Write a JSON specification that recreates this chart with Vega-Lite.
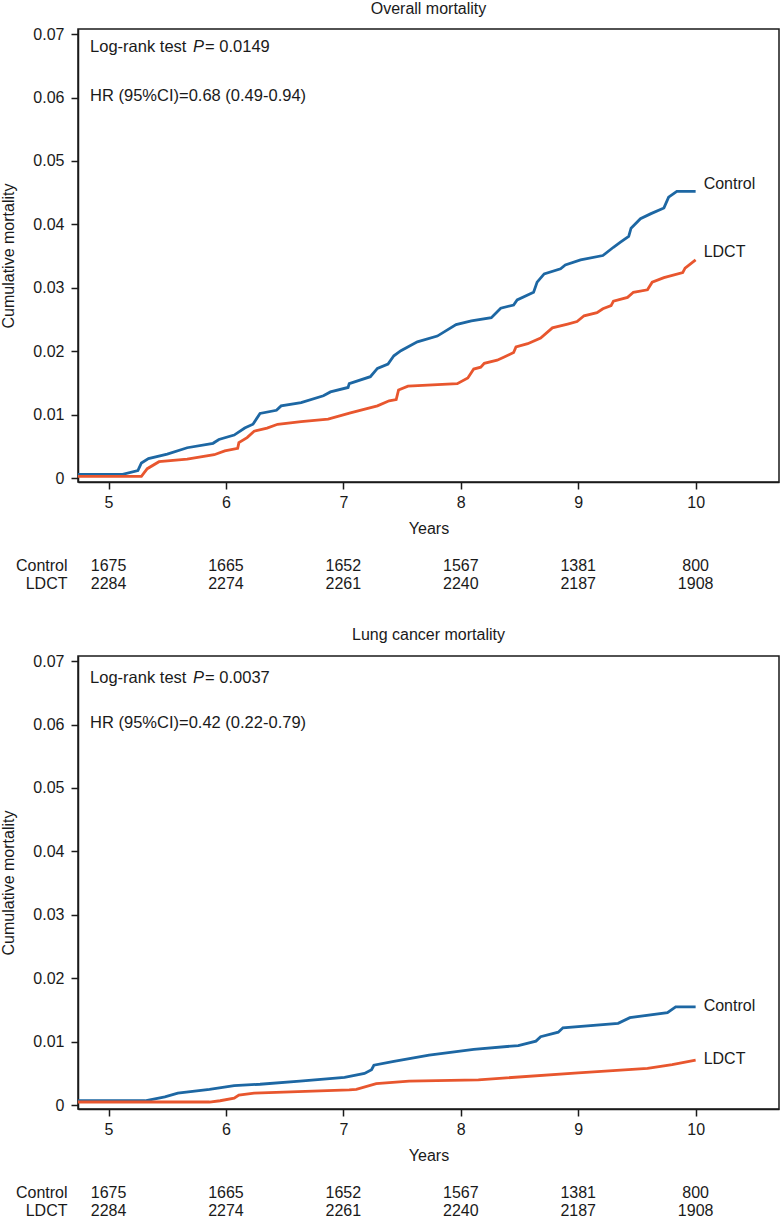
{
  "$schema": "https://vega.github.io/schema/vega-lite/v6.json",
  "padding": {"left": 0, "top": 0, "right": 0, "bottom": 0},
  "background": "white",
  "config": {
    "font": "Liberation Sans",
    "view": {"stroke": "#1a1a1a", "strokeWidth": 1.5},
    "axis": {"labelFont": "Liberation Sans", "labelFontSize": 16, "labelColor": "#1a1a1a", "titleFont": "Liberation Sans", "titleFontSize": 16, "titleFontWeight": "normal", "titleColor": "#1a1a1a", "domainColor": "#1a1a1a", "tickColor": "#1a1a1a", "grid": false, "tickSize": 7, "domainWidth": 1.5, "tickWidth": 1.5},
    "title": {"font": "Liberation Sans", "fontSize": 16, "fontWeight": "normal", "color": "#1a1a1a", "frame": "group", "anchor": "middle", "offset": 9},
    "concat": {"spacing": 20}
  },
  "resolve": {"scale": {"x": "independent", "y": "independent"}},
  "datasets": {
    "overall": [
      {"group": "Control", "t": 4.74, "m": 0.0006}, {"group": "Control", "t": 5.12, "m": 0.0006}, {"group": "Control", "t": 5.25, "m": 0.0012}, {"group": "Control", "t": 5.28, "m": 0.0024}, {"group": "Control", "t": 5.34, "m": 0.0031}, {"group": "Control", "t": 5.50, "m": 0.0038}, {"group": "Control", "t": 5.67, "m": 0.0048}, {"group": "Control", "t": 5.89, "m": 0.0055}, {"group": "Control", "t": 5.94, "m": 0.0061}, {"group": "Control", "t": 6.07, "m": 0.0068}, {"group": "Control", "t": 6.16, "m": 0.0079}, {"group": "Control", "t": 6.23, "m": 0.0085}, {"group": "Control", "t": 6.29, "m": 0.0102}, {"group": "Control", "t": 6.43, "m": 0.0107}, {"group": "Control", "t": 6.47, "m": 0.0114}, {"group": "Control", "t": 6.64, "m": 0.0119}, {"group": "Control", "t": 6.83, "m": 0.0130}, {"group": "Control", "t": 6.89, "m": 0.0136}, {"group": "Control", "t": 7.04, "m": 0.0143}, {"group": "Control", "t": 7.05, "m": 0.0149}, {"group": "Control", "t": 7.23, "m": 0.0160}, {"group": "Control", "t": 7.29, "m": 0.0173}, {"group": "Control", "t": 7.38, "m": 0.0180}, {"group": "Control", "t": 7.43, "m": 0.0193}, {"group": "Control", "t": 7.49, "m": 0.0201}, {"group": "Control", "t": 7.63, "m": 0.0215}, {"group": "Control", "t": 7.80, "m": 0.0224}, {"group": "Control", "t": 7.96, "m": 0.0242}, {"group": "Control", "t": 8.09, "m": 0.0248}, {"group": "Control", "t": 8.26, "m": 0.0253}, {"group": "Control", "t": 8.34, "m": 0.0268}, {"group": "Control", "t": 8.45, "m": 0.0273}, {"group": "Control", "t": 8.48, "m": 0.0281}, {"group": "Control", "t": 8.62, "m": 0.0293}, {"group": "Control", "t": 8.65, "m": 0.0309}, {"group": "Control", "t": 8.71, "m": 0.0322}, {"group": "Control", "t": 8.85, "m": 0.0330}, {"group": "Control", "t": 8.89, "m": 0.0336}, {"group": "Control", "t": 9.02, "m": 0.0344}, {"group": "Control", "t": 9.21, "m": 0.0351}, {"group": "Control", "t": 9.30, "m": 0.0364}, {"group": "Control", "t": 9.36, "m": 0.0372}, {"group": "Control", "t": 9.43, "m": 0.0381}, {"group": "Control", "t": 9.45, "m": 0.0394}, {"group": "Control", "t": 9.53, "m": 0.0409}, {"group": "Control", "t": 9.62, "m": 0.0417}, {"group": "Control", "t": 9.73, "m": 0.0426}, {"group": "Control", "t": 9.77, "m": 0.0443}, {"group": "Control", "t": 9.84, "m": 0.0452}, {"group": "Control", "t": 10.0, "m": 0.0452},
      {"group": "LDCT", "t": 4.74, "m": 0.0003}, {"group": "LDCT", "t": 5.28, "m": 0.0003}, {"group": "LDCT", "t": 5.33, "m": 0.0015}, {"group": "LDCT", "t": 5.43, "m": 0.0026}, {"group": "LDCT", "t": 5.67, "m": 0.0030}, {"group": "LDCT", "t": 5.90, "m": 0.0037}, {"group": "LDCT", "t": 5.99, "m": 0.0043}, {"group": "LDCT", "t": 6.10, "m": 0.0047}, {"group": "LDCT", "t": 6.11, "m": 0.0056}, {"group": "LDCT", "t": 6.18, "m": 0.0064}, {"group": "LDCT", "t": 6.24, "m": 0.0074}, {"group": "LDCT", "t": 6.35, "m": 0.0079}, {"group": "LDCT", "t": 6.44, "m": 0.0085}, {"group": "LDCT", "t": 6.64, "m": 0.0089}, {"group": "LDCT", "t": 6.87, "m": 0.0093}, {"group": "LDCT", "t": 7.06, "m": 0.0103}, {"group": "LDCT", "t": 7.29, "m": 0.0114}, {"group": "LDCT", "t": 7.39, "m": 0.0122}, {"group": "LDCT", "t": 7.45, "m": 0.0124}, {"group": "LDCT", "t": 7.47, "m": 0.0139}, {"group": "LDCT", "t": 7.55, "m": 0.0145}, {"group": "LDCT", "t": 7.97, "m": 0.0149}, {"group": "LDCT", "t": 8.06, "m": 0.0158}, {"group": "LDCT", "t": 8.11, "m": 0.0172}, {"group": "LDCT", "t": 8.17, "m": 0.0175}, {"group": "LDCT", "t": 8.20, "m": 0.0181}, {"group": "LDCT", "t": 8.31, "m": 0.0186}, {"group": "LDCT", "t": 8.37, "m": 0.0191}, {"group": "LDCT", "t": 8.45, "m": 0.0198}, {"group": "LDCT", "t": 8.47, "m": 0.0207}, {"group": "LDCT", "t": 8.57, "m": 0.0212}, {"group": "LDCT", "t": 8.68, "m": 0.0221}, {"group": "LDCT", "t": 8.78, "m": 0.0237}, {"group": "LDCT", "t": 8.91, "m": 0.0243}, {"group": "LDCT", "t": 8.99, "m": 0.0247}, {"group": "LDCT", "t": 9.05, "m": 0.0256}, {"group": "LDCT", "t": 9.16, "m": 0.0261}, {"group": "LDCT", "t": 9.21, "m": 0.0267}, {"group": "LDCT", "t": 9.28, "m": 0.0272}, {"group": "LDCT", "t": 9.30, "m": 0.0279}, {"group": "LDCT", "t": 9.42, "m": 0.0285}, {"group": "LDCT", "t": 9.47, "m": 0.0293}, {"group": "LDCT", "t": 9.59, "m": 0.0297}, {"group": "LDCT", "t": 9.63, "m": 0.0309}, {"group": "LDCT", "t": 9.73, "m": 0.0316}, {"group": "LDCT", "t": 9.89, "m": 0.0324}, {"group": "LDCT", "t": 9.91, "m": 0.0331}, {"group": "LDCT", "t": 10.0, "m": 0.0344}
    ],
    "lung": [
      {"group": "Control", "t": 4.74, "m": 0.0007}, {"group": "Control", "t": 5.31, "m": 0.0007}, {"group": "Control", "t": 5.48, "m": 0.0013}, {"group": "Control", "t": 5.59, "m": 0.0019}, {"group": "Control", "t": 5.86, "m": 0.0025}, {"group": "Control", "t": 6.07, "m": 0.0031}, {"group": "Control", "t": 6.29, "m": 0.0033}, {"group": "Control", "t": 6.63, "m": 0.0038}, {"group": "Control", "t": 7.01, "m": 0.0044}, {"group": "Control", "t": 7.18, "m": 0.0050}, {"group": "Control", "t": 7.24, "m": 0.0056}, {"group": "Control", "t": 7.26, "m": 0.0063}, {"group": "Control", "t": 7.43, "m": 0.0069}, {"group": "Control", "t": 7.73, "m": 0.0079}, {"group": "Control", "t": 8.11, "m": 0.0088}, {"group": "Control", "t": 8.49, "m": 0.0094}, {"group": "Control", "t": 8.64, "m": 0.0101}, {"group": "Control", "t": 8.68, "m": 0.0108}, {"group": "Control", "t": 8.83, "m": 0.0115}, {"group": "Control", "t": 8.87, "m": 0.0122}, {"group": "Control", "t": 9.34, "m": 0.0129}, {"group": "Control", "t": 9.44, "m": 0.0138}, {"group": "Control", "t": 9.76, "m": 0.0146}, {"group": "Control", "t": 9.83, "m": 0.0155}, {"group": "Control", "t": 10.0, "m": 0.0155},
      {"group": "LDCT", "t": 4.74, "m": 0.0005}, {"group": "LDCT", "t": 5.86, "m": 0.0005}, {"group": "LDCT", "t": 5.95, "m": 0.0007}, {"group": "LDCT", "t": 6.07, "m": 0.0011}, {"group": "LDCT", "t": 6.11, "m": 0.0016}, {"group": "LDCT", "t": 6.24, "m": 0.0019}, {"group": "LDCT", "t": 7.05, "m": 0.0024}, {"group": "LDCT", "t": 7.11, "m": 0.0025}, {"group": "LDCT", "t": 7.28, "m": 0.0034}, {"group": "LDCT", "t": 7.56, "m": 0.0038}, {"group": "LDCT", "t": 8.15, "m": 0.0040}, {"group": "LDCT", "t": 9.00, "m": 0.0051}, {"group": "LDCT", "t": 9.59, "m": 0.0058}, {"group": "LDCT", "t": 9.80, "m": 0.0064}, {"group": "LDCT", "t": 10.0, "m": 0.0071}
    ],
    "risk": [
      {"group": "Control", "t": 5, "n": "1675"}, {"group": "Control", "t": 6, "n": "1665"}, {"group": "Control", "t": 7, "n": "1652"}, {"group": "Control", "t": 8, "n": "1567"}, {"group": "Control", "t": 9, "n": "1381"}, {"group": "Control", "t": 10, "n": "800"},
      {"group": "LDCT", "t": 5, "n": "2284"}, {"group": "LDCT", "t": 6, "n": "2274"}, {"group": "LDCT", "t": 7, "n": "2261"}, {"group": "LDCT", "t": 8, "n": "2240"}, {"group": "LDCT", "t": 9, "n": "2187"}, {"group": "LDCT", "t": 10, "n": "1908"}
    ]
  },
  "vconcat": [
    {
      "title": "Overall mortality",
      "width": 701,
      "height": 453,
      "layer": [
        {
          "data": {"name": "overall"},
          "mark": {"type": "line", "strokeWidth": 2.8, "interpolate": "linear"},
          "encoding": {
            "x": {"field": "t", "type": "quantitative", "scale": {"domain": [4.74, 10.71], "nice": false, "zero": false}, "axis": {"values": [5, 6, 7, 8, 9, 10], "format": "d", "title": "Years", "labelPadding": 5, "titlePadding": 10, "labelFlush": false}},
            "y": {"field": "m", "type": "quantitative", "scale": {"domain": [-0.0006, 0.0708], "nice": false, "zero": false}, "axis": {"values": [0, 0.01, 0.02, 0.03, 0.04, 0.05, 0.06, 0.07], "title": "Cumulative mortality", "labelExpr": "datum.value == 0 ? '0' : format(datum.value, '.2f')", "labelPadding": 7, "titlePadding": 16, "labelFlush": false}},
            "color": {"field": "group", "type": "nominal", "scale": {"domain": ["Control", "LDCT"], "range": ["#1d67a3", "#e8562e"]}, "legend": null}
          }
        },
        {
          "data": {"name": "overall"},
          "transform": [{"filter": "datum.t == 10"}],
          "mark": {"type": "text", "align": "left", "baseline": "middle", "dx": 8, "dy": -7.5, "fontSize": 16, "color": "#1a1a1a"},
          "encoding": {"x": {"field": "t", "type": "quantitative"}, "y": {"field": "m", "type": "quantitative"}, "text": {"field": "group"}}
        },
        {
          "data": {"values": [{}]},
          "mark": {"type": "text", "align": "left", "baseline": "middle", "fontSize": 16.5, "color": "#1a1a1a"},
          "encoding": {"x": {"datum": 4.843, "type": "quantitative"}, "y": {"datum": 0.068, "type": "quantitative"}, "text": {"value": "Log-rank test"}}
        },
        {
          "data": {"values": [{}]},
          "mark": {"type": "text", "align": "left", "baseline": "middle", "fontSize": 16.5, "fontStyle": "italic", "dx": 103, "color": "#1a1a1a"},
          "encoding": {"x": {"datum": 4.843, "type": "quantitative"}, "y": {"datum": 0.068, "type": "quantitative"}, "text": {"value": "P"}}
        },
        {
          "data": {"values": [{}]},
          "mark": {"type": "text", "align": "left", "baseline": "middle", "fontSize": 16.5, "dx": 115, "color": "#1a1a1a"},
          "encoding": {"x": {"datum": 4.843, "type": "quantitative"}, "y": {"datum": 0.068, "type": "quantitative"}, "text": {"value": "= 0.0149"}}
        },
        {
          "data": {"values": [{}]},
          "mark": {"type": "text", "align": "left", "baseline": "middle", "fontSize": 16.5, "color": "#1a1a1a"},
          "encoding": {"x": {"datum": 4.843, "type": "quantitative"}, "y": {"datum": 0.0602, "type": "quantitative"}, "text": {"value": "HR (95%CI)=0.68 (0.49-0.94)"}}
        }
      ]
    },
    {
      "width": 701,
      "height": 49,
      "view": {"stroke": null},
      "data": {"name": "risk"},
      "mark": {"type": "text", "fontSize": 16, "color": "#1a1a1a", "baseline": "middle"},
      "encoding": {
        "x": {"field": "t", "type": "quantitative", "scale": {"domain": [4.74, 10.71], "nice": false, "zero": false}, "axis": null},
        "y": {"field": "group", "type": "nominal", "scale": {"type": "band", "domain": ["Control", "LDCT"], "paddingInner": 0, "paddingOuter": 0.361, "align": 0}, "axis": {"title": null, "domain": false, "ticks": false, "labelPadding": 11, "labelFontSize": 16}},
        "text": {"field": "n", "type": "nominal"}
      }
    },
    {
      "title": {"text": "Lung cancer mortality", "offset": 10},
      "width": 701,
      "height": 453,
      "layer": [
        {
          "data": {"name": "lung"},
          "mark": {"type": "line", "strokeWidth": 2.8, "interpolate": "linear"},
          "encoding": {
            "x": {"field": "t", "type": "quantitative", "scale": {"domain": [4.74, 10.71], "nice": false, "zero": false}, "axis": {"values": [5, 6, 7, 8, 9, 10], "format": "d", "title": "Years", "labelPadding": 5, "titlePadding": 10, "labelFlush": false}},
            "y": {"field": "m", "type": "quantitative", "scale": {"domain": [-0.0006, 0.0708], "nice": false, "zero": false}, "axis": {"values": [0, 0.01, 0.02, 0.03, 0.04, 0.05, 0.06, 0.07], "title": "Cumulative mortality", "labelExpr": "datum.value == 0 ? '0' : format(datum.value, '.2f')", "labelPadding": 7, "titlePadding": 16, "labelFlush": false}},
            "color": {"field": "group", "type": "nominal", "scale": {"domain": ["Control", "LDCT"], "range": ["#1d67a3", "#e8562e"]}, "legend": null}
          }
        },
        {
          "data": {"name": "lung"},
          "transform": [{"filter": "datum.t == 10"}],
          "mark": {"type": "text", "align": "left", "baseline": "middle", "dx": 8, "dy": -1, "fontSize": 16, "color": "#1a1a1a"},
          "encoding": {"x": {"field": "t", "type": "quantitative"}, "y": {"field": "m", "type": "quantitative"}, "text": {"field": "group"}}
        },
        {
          "data": {"values": [{}]},
          "mark": {"type": "text", "align": "left", "baseline": "middle", "fontSize": 16.5, "color": "#1a1a1a"},
          "encoding": {"x": {"datum": 4.843, "type": "quantitative"}, "y": {"datum": 0.0674, "type": "quantitative"}, "text": {"value": "Log-rank test"}}
        },
        {
          "data": {"values": [{}]},
          "mark": {"type": "text", "align": "left", "baseline": "middle", "fontSize": 16.5, "fontStyle": "italic", "dx": 103, "color": "#1a1a1a"},
          "encoding": {"x": {"datum": 4.843, "type": "quantitative"}, "y": {"datum": 0.0674, "type": "quantitative"}, "text": {"value": "P"}}
        },
        {
          "data": {"values": [{}]},
          "mark": {"type": "text", "align": "left", "baseline": "middle", "fontSize": 16.5, "dx": 115, "color": "#1a1a1a"},
          "encoding": {"x": {"datum": 4.843, "type": "quantitative"}, "y": {"datum": 0.0674, "type": "quantitative"}, "text": {"value": "= 0.0037"}}
        },
        {
          "data": {"values": [{}]},
          "mark": {"type": "text", "align": "left", "baseline": "middle", "fontSize": 16.5, "color": "#1a1a1a"},
          "encoding": {"x": {"datum": 4.843, "type": "quantitative"}, "y": {"datum": 0.0602, "type": "quantitative"}, "text": {"value": "HR (95%CI)=0.42 (0.22-0.79)"}}
        }
      ]
    },
    {
      "width": 701,
      "height": 36,
      "view": {"stroke": null},
      "data": {"name": "risk"},
      "mark": {"type": "text", "fontSize": 16, "color": "#1a1a1a", "baseline": "middle"},
      "encoding": {
        "x": {"field": "t", "type": "quantitative", "scale": {"domain": [4.74, 10.71], "nice": false, "zero": false}, "axis": null},
        "y": {"field": "group", "type": "nominal", "scale": {"type": "band", "domain": ["Control", "LDCT"], "paddingInner": 0, "paddingOuter": 0}, "axis": {"title": null, "domain": false, "ticks": false, "labelPadding": 11, "labelFontSize": 16}},
        "text": {"field": "n", "type": "nominal"}
      }
    }
  ]
}
